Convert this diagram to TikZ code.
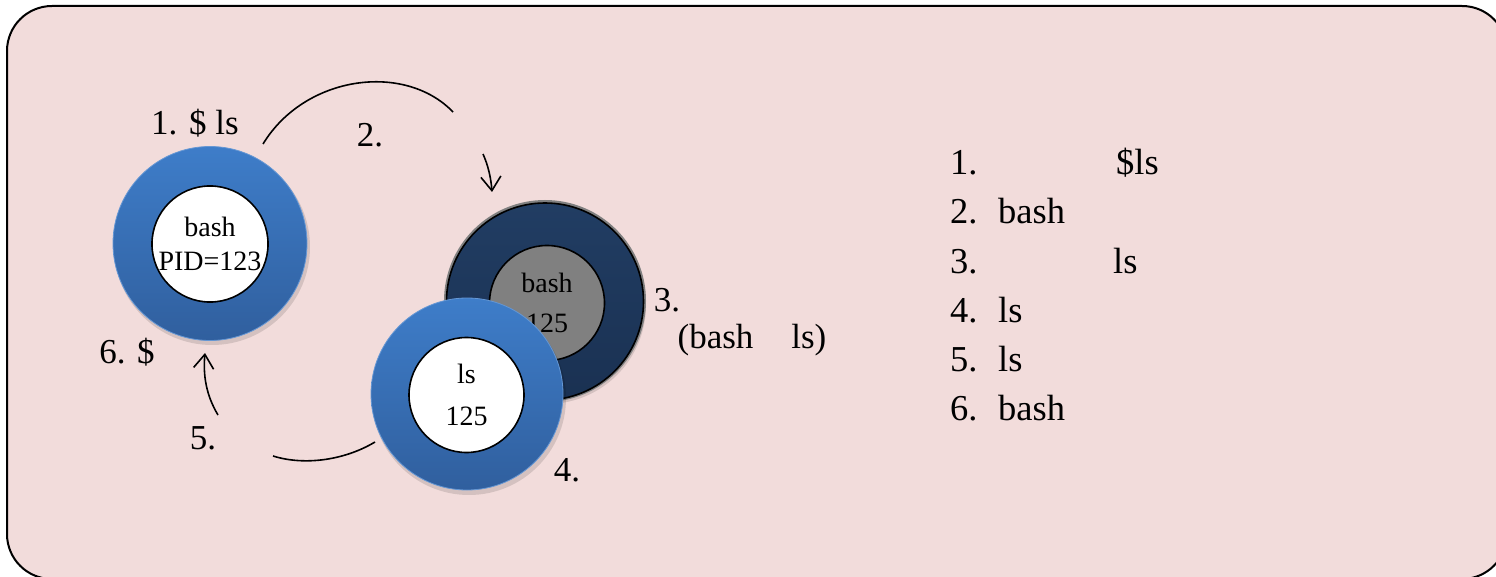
\documentclass[tikz,border=0pt]{standalone}
\usepackage{fontspec}
\setmainfont{Liberation Serif}
\usetikzlibrary{arrows.meta,shadows}
\definecolor{panelpink}{HTML}{F2DCDB}
\definecolor{ringtop}{HTML}{3E7DC9}
\definecolor{ringbot}{HTML}{305F9E}
\definecolor{darktop}{HTML}{213D63}
\definecolor{darkbot}{HTML}{1A3152}
\definecolor{innergray}{HTML}{808080}
\begin{document}
\begin{tikzpicture}[x=1pt,y=-1pt,
  panel/.style={fill=panelpink,draw=black,line width=2pt,rounded corners=45pt},
  ringblue/.style={circle,inner sep=0pt,shading=axis,top color=ringtop,bottom color=ringbot,draw=ringtop!80!white,line width=0.8pt},
  ringdark/.style={circle,inner sep=0pt,shading=axis,top color=darktop,bottom color=darkbot,draw=black,line width=1.6pt},
  shadowc/.style={circle,inner sep=0pt,fill=black,opacity=0.12},
  innerwhite/.style={circle,inner sep=0pt,fill=white,draw=black,line width=1.6pt,align=center,font=\fontsize{28}{36}\selectfont},
  innergrey/.style={circle,inner sep=0pt,fill=innergray,draw=black,line width=1.6pt,align=center,font=\fontsize{28}{40}\selectfont},
  lbl/.style={inner sep=0pt,font=\fontsize{35}{42}\selectfont},
  listtxt/.style={inner sep=0pt,anchor=base west,font=\fontsize{36.5}{44}\selectfont},
  conn/.style={line width=1.6pt},
  arr/.style={line width=1.6pt,-{Straight Barb[length=14pt,width=20pt,line width=1.6pt]}}
]
\useasboundingbox (0,0) rectangle (1496,577);
\fill[white] (0,0) rectangle (1496,577);
\clip (0,0) rectangle (1496,577);
\draw[panel] (7,6) rectangle (1507,579);

% left process: bash PID=123
\node[shadowc,minimum size=196pt] at (212,247) {};
\node[ringblue,minimum size=194pt] (bashring) at (210,243.5) {};
\node[innerwhite,minimum size=116pt] (bashin) at (210,244) {bash\\[-2pt]PID=123};

% forked bash (dark, behind)
\node[shadowc,minimum size=198pt] at (547,305) {};
\node[circle,inner sep=0pt,draw=gray,line width=3pt,minimum size=199pt] at (545,301) {};
\node[ringdark,minimum size=197pt] (forkring) at (545,301.5) {};
\node[innergrey,minimum size=115pt] (forkin) at (547,303) {bash\\125};

% ls process (front)
\node[shadowc,minimum size=194pt] at (469,398) {};
\node[ringblue,minimum size=192pt] (lsring) at (467,394) {};
\node[innerwhite,minimum size=115pt,font=\fontsize{28}{42}\selectfont] (lsin) at (466.5,395) {ls\\125};

% labels
\node[lbl] (l1) at (195,123) {1. \$ ls};
\node[lbl] (l2) at (370,135) {2.};
\node[lbl] (l3) at (667,300) {3.};
\node[lbl] (l3b) at (752,340) {(bash\hspace{38pt}ls)};
\node[lbl] (l4) at (567,470) {4.};
\node[lbl] (l5) at (203,438) {5.};
\node[lbl] (l6) at (127,352) {6. \$};

% connectors
\coordinate (a1s) at (263,144);
\coordinate (a1e) at (453,112);
\coordinate (a2s) at (483,154);
\coordinate (a2e) at (492,192);
\coordinate (a4s) at (375,442);
\coordinate (a4e) at (273,456);
\coordinate (a5s) at (218,415);
\coordinate (a5e) at (205,353);
\draw[conn] (a1s) .. controls (305,75) and (405,62) .. (a1e);
\draw[arr] (a2s) .. controls (488,165) and (491,178) .. (a2e);
\draw[conn] (a4s) .. controls (345,460) and (305,466) .. (a4e);
\draw[arr] (a5s) .. controls (206,395) and (203,375) .. (a5e);

% list
\node[listtxt] (n1) at (950,175) {1.};
\node[listtxt] (t1) at (1116,175) {\$ls};
\node[listtxt] (n2) at (950,224) {2.};
\node[listtxt] (t2) at (998,224) {bash};
\node[listtxt] (n3) at (950,273) {3.};
\node[listtxt] (t3) at (1113,273) {ls};
\node[listtxt] (n4) at (950,322) {4.};
\node[listtxt] (t4) at (998,322) {ls};
\node[listtxt] (n5) at (950,371) {5.};
\node[listtxt] (t5) at (998,371) {ls};
\node[listtxt] (n6) at (950,420) {6.};
\node[listtxt] (t6) at (998,420) {bash};
\end{tikzpicture}
\end{document}
